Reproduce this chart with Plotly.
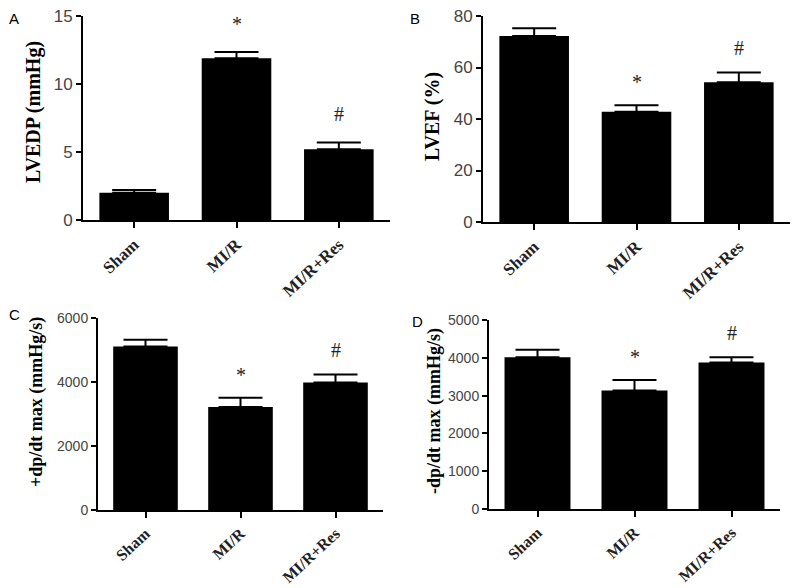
import plotly.graph_objects as go

# ---- data ----
categories = ["Sham", "MI/R", "MI/R+Res"]
lvedp = [2.0, 11.9, 5.2]
lvedp_err = [0.2, 0.45, 0.5]
lvef = [72.2, 42.8, 54.3]
lvef_err = [3.0, 2.5, 3.8]
dpdt_pos = [5110, 3215, 3985]
dpdt_pos_err = [210, 290, 250]
dpdt_neg = [4015, 3135, 3875]
dpdt_neg_err = [195, 280, 140]
marks = ["", "*", "#"]

W, H = 800, 588

def px(x):
    return x / W

def py(y):
    return 1 - y / H

panels = [
    dict(letter="A", title="LVEDP (mmHg)", vals=lvedp, err=lvedp_err,
         yr=[0, 15], tickvals=[0, 5, 10, 15], ytf=17, xtf=17,
         xd=[83, 390], yd=[16, 220], letter_pos=(14, 18), title_pos=(33, 112), tsize=20),
    dict(letter="B", title="LVEF (%)", vals=lvef, err=lvef_err,
         yr=[0, 80], tickvals=[0, 20, 40, 60, 80], ytf=17, xtf=17,
         xd=[483, 790], yd=[16, 222], letter_pos=(415, 18), title_pos=(432, 117), tsize=20),
    dict(letter="C", title="+dp/dt max (mmHg/s)", vals=dpdt_pos, err=dpdt_pos_err,
         yr=[0, 6000], tickvals=[0, 2000, 4000, 6000], ytf=14, xtf=16,
         xd=[98, 383], yd=[318, 510], letter_pos=(14, 314), title_pos=(36, 402), tsize=18),
    dict(letter="D", title="-dp/dt max (mmHg/s)", vals=dpdt_neg, err=dpdt_neg_err,
         yr=[0, 5000], tickvals=[0, 1000, 2000, 3000, 4000, 5000], ytf=14, xtf=16,
         xd=[489, 780], yd=[320, 509], letter_pos=(417, 321), title_pos=(434, 411), tsize=18),
]

fig = go.Figure()
annotations = []
layout = {}

for i, p in enumerate(panels):
    n = "" if i == 0 else str(i + 1)
    xa, ya = "x" + n, "y" + n
    fig.add_trace(go.Bar(
        x=categories, y=p["vals"], xaxis=xa, yaxis=ya,
        marker=dict(color="black", line=dict(width=0)),
        width=0.68,
        error_y=dict(type="data", array=p["err"], arrayminus=[0] * len(p["err"]),
                     symmetric=False, color="black", thickness=2, width=22),
        showlegend=False, hoverinfo="skip",
    ))
    layout["xaxis" + n] = dict(
        domain=[px(p["xd"][0]), px(p["xd"][1])], anchor=ya, automargin=False,
        range=[-0.5, 2.5], showline=True, linecolor="black", linewidth=2,
        ticks="outside", ticklen=6, tickwidth=2, tickcolor="black",
        tickangle=-43, showgrid=False, zeroline=False,
        tickfont=dict(family="Liberation Serif", size=p["xtf"], color="#222", weight="bold"),
    )
    layout["yaxis" + n] = dict(
        domain=[py(p["yd"][1]), py(p["yd"][0])], anchor=xa, automargin=False,
        range=p["yr"], tickvals=p["tickvals"], showline=True, linecolor="black",
        linewidth=2, ticks="outside", ticklen=5, tickwidth=2, tickcolor="black",
        showgrid=False, zeroline=False,
        tickfont=dict(family="Liberation Sans", size=p["ytf"], color="#444"),
    )
    # significance marks
    for c, v, e, m in zip(categories, p["vals"], p["err"], marks):
        if m:
            annotations.append(dict(
                x=c, y=v + e, xref=xa, yref=ya, text=m, showarrow=False,
                yanchor="middle", yshift=(28 if i == 0 else 23) if m == "*" else (28 if i == 0 else 24),
                font=dict(family="Liberation Serif", size=20, color="#222"),
            ))
    # panel letter
    lx, ly = p["letter_pos"]
    annotations.append(dict(
        x=px(lx), y=py(ly), xref="paper", yref="paper", text=p["letter"],
        showarrow=False, xanchor="center", yanchor="middle",
        font=dict(family="Liberation Sans", size=15, color="black"),
    ))
    # y-axis title
    tx, ty = p["title_pos"]
    annotations.append(dict(
        x=px(tx), y=py(ty), xref="paper", yref="paper", text=p["title"],
        showarrow=False, xanchor="center", yanchor="middle", textangle=-90,
        font=dict(family="Liberation Serif", size=p["tsize"], color="black", weight="bold"),
    ))

fig.update_layout(
    width=W, height=H, margin=dict(l=0, r=0, t=0, b=0, pad=0, autoexpand=False),
    paper_bgcolor="white", plot_bgcolor="white",
    annotations=annotations, bargap=0.32, hovermode=False,
    **layout,
)

fig.write_html("out.html", config={"displayModeBar": False},
               post_script="document.body.style.margin='0px';document.body.style.overflow='hidden';")
